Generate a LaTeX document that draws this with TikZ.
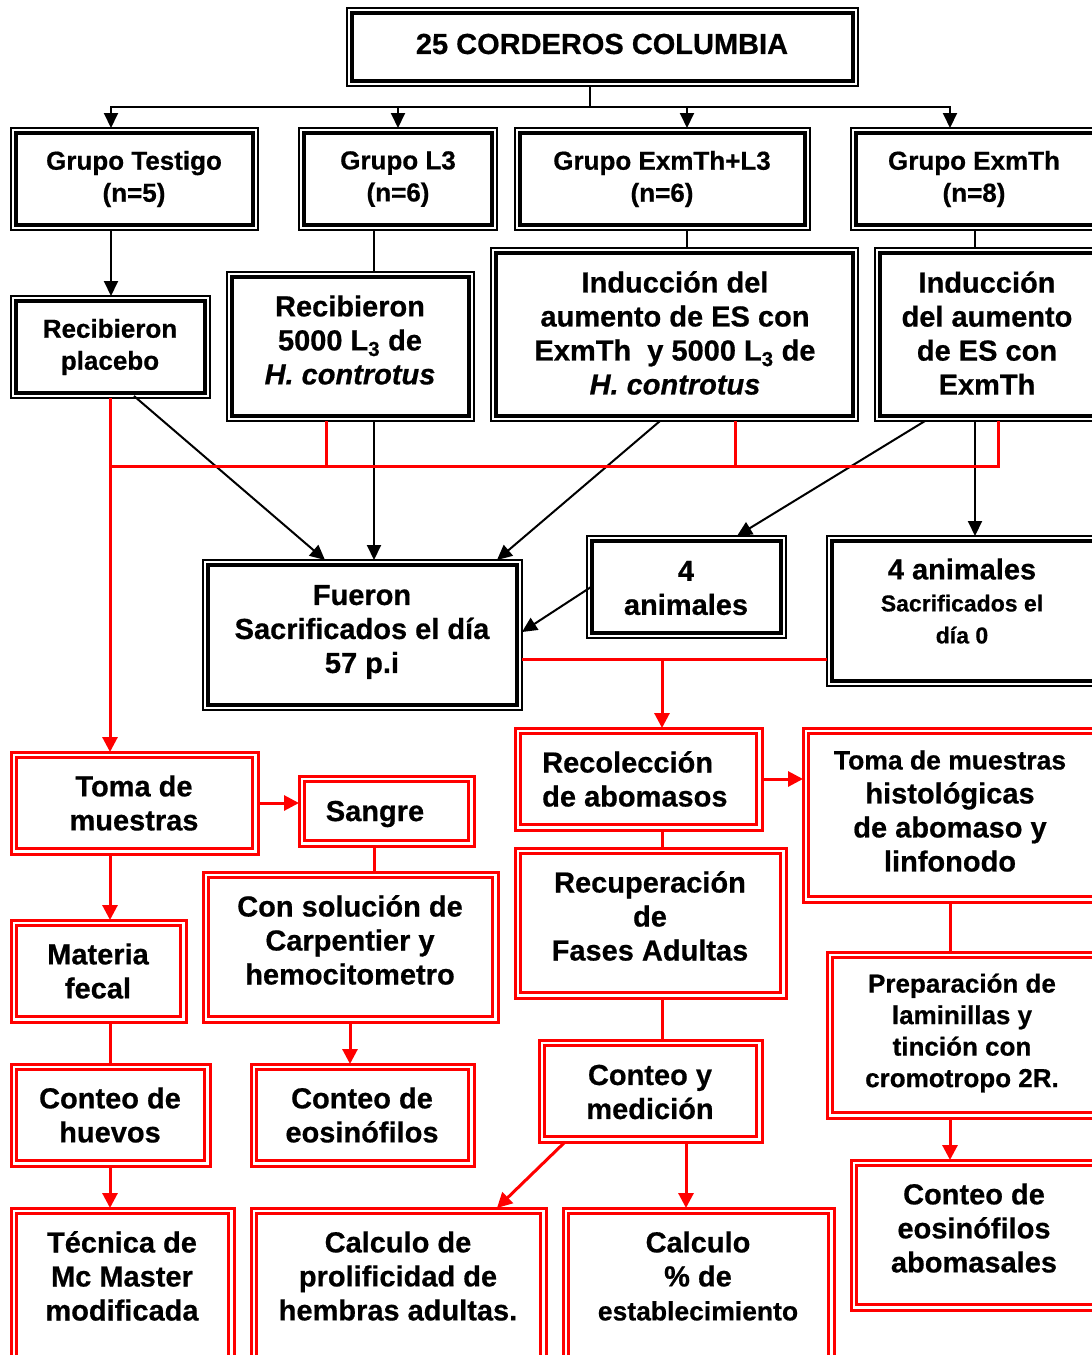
\documentclass[tikz,border=0pt]{standalone}
\usepackage{fontspec}
\setmainfont{Liberation Sans}[BoldFeatures={FakeBold=0.6},BoldItalicFeatures={FakeBold=0.6}]
\usetikzlibrary{arrows.meta,calc}
\begin{document}
\begin{tikzpicture}[x=1pt,y=-1pt,
  bk/.style={draw=black, line width=1.5pt, outer sep=0pt, inner sep=0pt},
  rdbox/.style={draw=red, line width=3pt, outer sep=0pt, inner sep=0pt},
  txt/.style={font=\bfseries\fontsize{29}{34}\selectfont, align=center, inner sep=0pt},
  txts/.style={font=\bfseries\fontsize{26}{32}\selectfont, align=center, inner sep=0pt},
  bl/.style={draw=black, line width=2pt},
  bla/.style={bl, -{Triangle[length=15pt,width=14pt]}},
  rd/.style={draw=red, line width=3pt},
  rda/.style={rd, -{Triangle[length=15pt,width=15pt]}},
  inb/.style={draw=black, line width=3.5pt},
  inr/.style={draw=red, line width=3.5pt}
]
\useasboundingbox (0,0) rectangle (1092,1355);
\fill[white] (0,0) rectangle (1092,1355);

% ---------- black boxes ----------
\node[bk, minimum width=511pt, minimum height=78pt]  (title) at (602.5,47) {};
\node[bk, minimum width=247pt, minimum height=102pt] (g1) at (134.5,179) {};
\node[bk, minimum width=198pt, minimum height=102pt] (g2) at (398,179) {};
\node[bk, minimum width=295pt, minimum height=102pt] (g3) at (662.5,179) {};
\node[bk, minimum width=249pt, minimum height=102pt] (g4) at (975.5,179) {};
\node[bk, minimum width=199pt, minimum height=102pt] (pl) at (110.5,347) {};
\node[bk, minimum width=247pt, minimum height=149pt] (l3b) at (350.5,346.5) {};
\node[bk, minimum width=367pt, minimum height=173pt] (exl) at (674.5,334.5) {};
\node[bk, minimum width=225pt, minimum height=173pt] (ex) at (987.5,334.5) {};
\node[bk, minimum width=319pt, minimum height=150pt] (sac) at (362.5,635) {};
\node[bk, minimum width=199pt, minimum height=102pt] (four) at (686.5,587) {};
\node[bk, minimum width=273pt, minimum height=150pt] (four0) at (963.5,611) {};

% ---------- red boxes ----------
\node[rdbox, minimum width=247pt, minimum height=102pt] (toma) at (134.5,803) {};
\node[rdbox, minimum width=175pt, minimum height=70pt]  (sangre) at (386.5,811) {};
\node[rdbox, minimum width=175pt, minimum height=102pt] (mf) at (98.5,971) {};
\node[rdbox, minimum width=295pt, minimum height=150pt] (carp) at (350.5,947) {};
\node[rdbox, minimum width=199pt, minimum height=102pt] (ch) at (110.5,1115) {};
\node[rdbox, minimum width=223pt, minimum height=102pt] (ce) at (362.5,1115) {};
\node[rdbox, minimum width=223pt, minimum height=162pt] (tec) at (122.5,1289) {};
\node[rdbox, minimum width=295pt, minimum height=162pt] (calp) at (398.5,1289) {};
\node[rdbox, minimum width=247pt, minimum height=102pt] (reco) at (638.5,779) {};
\node[rdbox, minimum width=271pt, minimum height=150pt] (rec) at (650.5,923) {};
\node[rdbox, minimum width=297pt, minimum height=174pt] (tmh) at (951.5,815) {};
\node[rdbox, minimum width=223pt, minimum height=102pt] (cym) at (650.5,1091) {};
\node[rdbox, minimum width=271pt, minimum height=162pt] (calc) at (698.5,1289) {};
\node[rdbox, minimum width=273pt, minimum height=166pt] (prep) at (963.5,1035) {};
\node[rdbox, minimum width=249pt, minimum height=150pt] (cea) at (975.5,1235) {};

% ---------- inner borders ----------
\foreach \n in {title,g1,g2,g3,g4,pl,l3b,exl,ex,sac,four,four0}
  \draw[inb] ([shift={(5pt,-5pt)}]\n.north west) rectangle ([shift={(-5pt,5pt)}]\n.south east);
\foreach \n in {toma,sangre,mf,carp,ch,ce,tec,calp,reco,rec,tmh,cym,calc,prep,cea}
  \draw[inr] ([shift={(5.5pt,-5.5pt)}]\n.north west) rectangle ([shift={(-5.5pt,5.5pt)}]\n.south east);

% ---------- texts ----------
\node[txt] (t-title) at (602,44) {25 CORDEROS COLUMBIA};
\node[txts] (t-g1) at (134,179) {Grupo Testigo\\(n=5)};
\node[txts] (t-g2) at (398,179) {Grupo L3\\(n=6)};
\node[txts] (t-g3) at (662,179) {Grupo ExmTh+L3\\(n=6)};
\node[txts] (t-g4) at (974,179) {Grupo ExmTh\\(n=8)};
\node[txts] (t-pl) at (110,347) {Recibieron\\placebo};
\node[txt] (t-l3b) at (350,340) {Recibieron\\5000 L\textsubscript{3} de\\\textit{H. controtus}};
\node[txt] (t-exl) at (675,333) {Inducción del\\aumento de ES con\\ExmTh\ \ y 5000 L\textsubscript{3} de\\\textit{H. controtus}};
\node[txt] (t-ex) at (987,333) {Inducción\\del aumento\\de ES con\\ExmTh};
\node[txt] (t-sac) at (362,632) {Fueron\\Sacrificados el día\\57 p.i};
\node[txt] (t-four) at (686,588) {4\\animales};
\node[txt, font=\bfseries\fontsize{23}{32}\selectfont] (t-four0) at (962,601) {{\fontsize{29}{32}\selectfont 4 animales}\\Sacrificados el\\día 0};
\node[txt] (t-toma) at (134,803) {Toma de\\muestras};
\node[txt] (t-sangre) at (375,814) {Sangre};
\node[txt] (t-mf) at (98,971) {Materia\\fecal};
\node[txt] (t-carp) at (350,940) {Con solución de\\Carpentier y\\hemocitometro};
\node[txt] (t-ch) at (110,1115) {Conteo de\\huevos};
\node[txt] (t-ce) at (362,1115) {Conteo de\\eosinófilos};
\node[txt] (t-tec) at (122,1276) {Técnica de\\Mc Master\\modificada};
\node[txt] (t-calp) at (398,1276) {Calculo de\\prolificidad de\\hembras adultas.};
\node[txt, align=left, anchor=west] (t-reco) at (542,779) {Recolección\\de abomasos};
\node[txt] (t-rec) at (650,916) {Recuperación\\de\\Fases Adultas};
\node[txt] (t-tmh) at (950,811) {{\fontsize{26.5}{34}\selectfont Toma de muestras}\\histológicas\\de abomaso y\\linfonodo};
\node[txt] (t-cym) at (650,1092) {Conteo y\\medición};
\node[txt] (t-calc) at (698,1276) {Calculo\\\% de\\{\fontsize{26.5}{34}\selectfont establecimiento}};
\node[txts, font=\bfseries\fontsize{26}{31.5}\selectfont] (t-prep) at (962,1033) {Preparación de\\laminillas y\\tinción con\\cromotropo 2R.};
\node[txt] (t-cea) at (974,1228) {Conteo de\\eosinófilos\\abomasales};

% ---------- black connectors ----------
\coordinate (hub) at (590,107);
\draw[bl] (title.south -| hub) -- (hub);
\draw[bla] (hub) -| ([xshift=100pt]g1.north west);
\draw[bla] (hub) -| ([xshift=99pt]g2.north west);
\draw[bla] (hub) -| ([xshift=172pt]g3.north west);
\draw[bla] (hub) -| ([xshift=99pt]g4.north west);
\draw[bla] ([xshift=100pt]g1.south west) -- ([xshift=100pt]pl.north west);
\draw[bl] ([xshift=75pt]g2.south west) -- ([xshift=147pt]l3b.north west);
\draw[bl] ([xshift=172pt]g3.south west) -- ([xshift=196pt]exl.north west);
\draw[bl] ([xshift=124pt]g4.south west) -- ([xshift=100pt]ex.north west);
\draw[bla] ([xshift=123pt,yshift=2pt]pl.south west) -- ([xshift=122pt]sac.north west);
\draw[bla] ([xshift=147pt]l3b.south west) -- ([xshift=171pt]sac.north west);
\draw[bla] ([xshift=169pt]exl.south west) -- ([xshift=294pt]sac.north west);
\draw[bla] ([xshift=50pt]ex.south west) -- ([xshift=150pt]four.north west);
\draw[bla] ([xshift=100pt]ex.south west) -- ([xshift=148pt]four0.north west);
\draw[bla] ([xshift=4pt]four.west) -- ([yshift=3pt]sac.east);

% ---------- red connectors ----------
\coordinate (rbL) at (110,466);
\draw[rda] ([xshift=99pt]pl.south west) -- ([xshift=99pt]toma.north west);
\draw[rd] ([xshift=99pt]l3b.south west) |- (rbL);
\draw[rd] ([xshift=244pt]exl.south west) |- (rbL);
\draw[rd] ([xshift=123pt]ex.south west) |- (rbL);
\coordinate (rj) at (662,659);
\draw[rd] ([yshift=-24pt]sac.east) -- ([yshift=-48pt]four0.west);
\draw[rda] (rj) -- ([xshift=147pt]reco.north west);
\draw[rda] (toma.east) -- (toma.east -| sangre.west);
\draw[rda] ([xshift=99pt]toma.south west) -- ([xshift=99pt]mf.north west);
\draw[rd] ([xshift=75pt]sangre.south west) -- ([xshift=171pt]carp.north west);
\draw[rd] ([xshift=99pt]mf.south west) -- ([xshift=99pt]ch.north west);
\draw[rda] ([xshift=147pt]carp.south west) -- ([xshift=99pt]ce.north west);
\draw[rda] ([xshift=99pt]ch.south west) -- ([xshift=99pt]tec.north west);
\draw[rda] (reco.east) -- (reco.east -| tmh.west);
\draw[rd] ([xshift=147pt]reco.south west) -- ([xshift=147pt]rec.north west);
\draw[rd] ([xshift=147pt]rec.south west) -- ([xshift=123pt]cym.north west);
\draw[rda] ([xshift=26pt]cym.south west) -- ([xshift=246pt]calp.north west);
\draw[rda] ([xshift=147pt]cym.south west) -- ([xshift=123pt]calc.north west);
\draw[rd] ([xshift=147pt]tmh.south west) -- ([xshift=123pt]prep.north west);
\draw[rda] ([xshift=123pt]prep.south west) -- ([xshift=99pt]cea.north west);
\end{tikzpicture}
\end{document}
